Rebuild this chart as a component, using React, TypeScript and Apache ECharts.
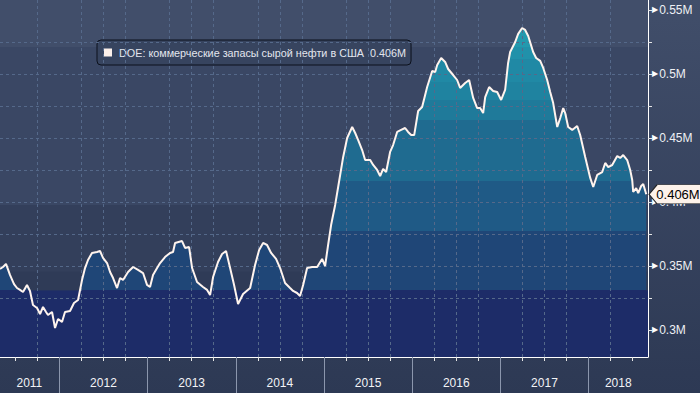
import React, { useEffect, useRef } from 'react';
import * as echarts from 'echarts';

const seriesName = 'DOE: коммерческие запасы сырой нефти в США';

// decimal-year positions of the samples
const years = [
  2011.327, 2011.361, 2011.395, 2011.440, 2011.486, 2011.520, 2011.554, 2011.588, 2011.633, 2011.667,
  2011.701, 2011.747, 2011.781, 2011.815, 2011.849, 2011.871, 2011.917, 2011.951, 2011.985, 2012.030,
  2012.064, 2012.121, 2012.166, 2012.212, 2012.257, 2012.291, 2012.325, 2012.370, 2012.427, 2012.461,
  2012.495, 2012.541, 2012.575, 2012.609, 2012.654, 2012.688, 2012.722, 2012.779, 2012.836, 2012.892,
  2012.949, 2012.994, 2013.028, 2013.062, 2013.108, 2013.142, 2013.198, 2013.255, 2013.289, 2013.312,
  2013.391, 2013.425, 2013.471, 2013.505, 2013.561, 2013.629, 2013.675, 2013.709, 2013.743, 2013.799,
  2013.845, 2013.890, 2013.936, 2013.981, 2014.026, 2014.083, 2014.163, 2014.219, 2014.265, 2014.310,
  2014.355, 2014.401, 2014.457, 2014.503, 2014.559, 2014.616, 2014.650, 2014.695, 2014.729, 2014.764,
  2014.809, 2014.866, 2014.923, 2014.979, 2015.013, 2015.047, 2015.081, 2015.127, 2015.161, 2015.218,
  2015.263, 2015.320, 2015.354, 2015.388, 2015.433, 2015.467, 2015.524, 2015.558, 2015.603, 2015.637,
  2015.671, 2015.705, 2015.750, 2015.784, 2015.830, 2015.875, 2015.920, 2015.954, 2015.989, 2016.023,
  2016.068, 2016.113, 2016.170, 2016.227, 2016.261, 2016.284, 2016.329, 2016.374, 2016.408, 2016.465,
  2016.510, 2016.544, 2016.601, 2016.646, 2016.692, 2016.737, 2016.771, 2016.805, 2016.828, 2016.873,
  2016.918, 2016.964, 2017.009, 2017.054, 2017.088, 2017.111, 2017.168, 2017.202, 2017.247, 2017.281,
  2017.316, 2017.372, 2017.406, 2017.452, 2017.486, 2017.531, 2017.565, 2017.599, 2017.645, 2017.679,
  2017.713, 2017.735, 2017.769, 2017.815, 2017.871, 2017.905, 2017.962, 2018.019, 2018.053, 2018.098,
  2018.155, 2018.189, 2018.223, 2018.268, 2018.325, 2018.359, 2018.393, 2018.438, 2018.472, 2018.495,
  2018.506, 2018.540, 2018.563, 2018.597, 2018.620, 2018.654,
];

// commercial crude stocks (displayed in "M" units as on the source)
const stocks = [
  0.3477, 0.3492, 0.3516, 0.3430, 0.3359, 0.3328, 0.3313, 0.3297, 0.3352, 0.3305,
  0.3195, 0.3172, 0.3125, 0.3180, 0.3141, 0.3117, 0.3141, 0.3016, 0.3086, 0.3063,
  0.3141, 0.3148, 0.3211, 0.3234, 0.3391, 0.3484, 0.3547, 0.3602, 0.3609, 0.3617,
  0.3563, 0.3523, 0.3453, 0.3406, 0.3328, 0.3406, 0.3391, 0.3453, 0.3492, 0.3469,
  0.3445, 0.3352, 0.3336, 0.3430, 0.3484, 0.3523, 0.3570, 0.3602, 0.3609, 0.3680,
  0.3695, 0.3641, 0.3648, 0.3484, 0.3375, 0.3336, 0.3313, 0.3273, 0.3414, 0.3531,
  0.3594, 0.3617, 0.3484, 0.3352, 0.3203, 0.3281, 0.3328, 0.3508, 0.3625, 0.3680,
  0.3664, 0.3602, 0.3555, 0.3484, 0.3367, 0.3328, 0.3305, 0.3289, 0.3266, 0.3352,
  0.3484, 0.3492, 0.3492, 0.3555, 0.3500, 0.3664, 0.3820, 0.3977, 0.4117, 0.4352,
  0.4500, 0.4586, 0.4539, 0.4484, 0.4406, 0.4328, 0.4328, 0.4289, 0.4250, 0.4203,
  0.4258, 0.4234, 0.4391, 0.4445, 0.4547, 0.4563, 0.4578, 0.4547, 0.4523, 0.4523,
  0.4711, 0.4742, 0.4898, 0.5023, 0.5016, 0.5070, 0.5125, 0.5094, 0.5039, 0.4992,
  0.4953, 0.4891, 0.4930, 0.4953, 0.4813, 0.4734, 0.4734, 0.4695, 0.4820, 0.4898,
  0.4867, 0.4859, 0.4797, 0.4875, 0.5086, 0.5172, 0.5250, 0.5313, 0.5359, 0.5344,
  0.5297, 0.5172, 0.5125, 0.5102, 0.5047, 0.4953, 0.4859, 0.4773, 0.4586, 0.4656,
  0.4734, 0.4695, 0.4586, 0.4563, 0.4594, 0.4523, 0.4352, 0.4188, 0.4117, 0.4211,
  0.4234, 0.4305, 0.4273, 0.4289, 0.4359, 0.4344, 0.4367, 0.4328, 0.4250, 0.4172,
  0.4078, 0.4109, 0.4070, 0.4125, 0.4141, 0.4060,
];

const xMin = 2011.327;
const xMax = 2018.674;
const yMin = 0.2789;
const yMax = 0.5578;

const yearBoundaries = [2012, 2013, 2014, 2015, 2016, 2017, 2018];
const yearLabelPos = [2011.66, 2012.5, 2013.5, 2014.5, 2015.5, 2016.5, 2017.5, 2018.337];
const quarterTicks = [
  2011.5, 2011.75, 2012.25, 2012.5, 2012.75, 2013.25, 2013.5, 2013.75,
  2014.25, 2014.5, 2014.75, 2015.25, 2015.5, 2015.75, 2016.25, 2016.5, 2016.75,
  2017.25, 2017.5, 2017.75, 2018.25, 2018.5,
];
const yLabelValues = [0.3, 0.35, 0.4, 0.45, 0.5, 0.55];
const yTickValues = [0.3, 0.325, 0.35, 0.375, 0.4, 0.425, 0.45, 0.475, 0.5, 0.525, 0.55];

// area fill colour steps by value
const fillBreaks = [0.331, 0.377, 0.416, 0.464, 0.48, 0.494, 0.512, 0.521];
const fillColors = ['#1d2c68', '#1f4677', '#1f5a86', '#1f6b90', '#1f7a9a', '#1f83a0', '#2089a5', '#2191aa', '#2399ae'];

// background bands by value
const bgBreaks = [yMin, 0.331, 0.3456, 0.3977, 0.521, yMax];
const bgColors = ['#1d2c68', '#2f3b57', '#333f5b', '#3a4764', '#414e6a'];

export default function App() {
  const ref = useRef<HTMLDivElement>(null);

  useEffect(() => {
    if (!ref.current) return;
    const chart = echarts.init(ref.current, null, { renderer: 'svg' });
    const data = years.map((y, i) => [y, stocks[i]]);
    const last = stocks[stocks.length - 1];
    const lastText = last.toFixed(3) + 'M';

    const pieces = fillColors.map((c, i) => {
      const p: any = { color: c };
      if (i > 0) p.gte = fillBreaks[i - 1];
      if (i < fillBreaks.length) p.lt = fillBreaks[i];
      return p;
    });

    const bands = bgColors.map((c, i) => [
      { yAxis: bgBreaks[i], itemStyle: { color: c } },
      { yAxis: bgBreaks[i + 1] },
    ]);

    const font = 'Liberation Sans';

    chart.setOption({
      animation: false,
      backgroundColor: {
        type: 'linear', x: 0, y: 0, x2: 0, y2: 1,
        colorStops: [
          { offset: 0, color: '#414e6a' },
          { offset: 1, color: '#2d3954' },
        ],
      },
      textStyle: { fontFamily: font },
      grid: { left: 0, right: 52, top: 0, bottom: 36, containLabel: false },
      legend: {
        data: [seriesName],
        left: 97,
        top: 40,
        icon: 'rect',
        itemWidth: 8,
        itemHeight: 8,
        padding: [7, 5, 7, 7],
        backgroundColor: '#37445f',
        borderColor: '#0c111c',
        borderWidth: 1,
        borderRadius: 4,
        selectedMode: false,
        formatter: (n: string) => n + '  ' + lastText,
        textStyle: { color: '#e3e6ee', fontSize: 10.8, fontFamily: font, padding: [0, 0, 0, 2] },
      },
      visualMap: {
        type: 'piecewise',
        show: false,
        seriesIndex: 0,
        dimension: 1,
        pieces,
      },
      xAxis: [
        {
          type: 'value',
          min: xMin,
          max: xMax,
          minInterval: 1,
          maxInterval: 1,
          z: 5,
          axisLine: { show: true, lineStyle: { color: '#ffffff', width: 1 } },
          axisTick: { show: true, customValues: quarterTicks, length: 4, lineStyle: { color: '#e6e6e6' } },
          axisLabel: {
            customValues: yearLabelPos,
            formatter: (v: number) => String(Math.floor(v)),
            color: '#f2f3f6',
            fontSize: 12,
            margin: 20,
          },
          splitLine: {
            show: true,
            showMinLine: false,
            showMaxLine: false,
            lineStyle: { color: '#55698a', type: [3, 3], width: 1 },
          },
        },
        {
          type: 'value',
          min: xMin,
          max: xMax,
          position: 'bottom',
          z: 5,
          axisLine: { show: false },
          axisTick: { show: true, customValues: yearBoundaries, length: 36, lineStyle: { color: '#8b96ad', width: 1 } },
          axisLabel: { show: false },
          splitLine: { show: false },
        },
      ],
      yAxis: {
        type: 'value',
        position: 'right',
        min: yMin,
        max: yMax,
        minInterval: 0.05,
        maxInterval: 0.05,
        z: 5,
        axisLine: { show: true, lineStyle: { color: '#ffffff', width: 1 } },
        axisTick: { show: true, customValues: yTickValues, length: 4, lineStyle: { color: '#e6e6e6' } },
        axisLabel: {
          customValues: yLabelValues,
          margin: 4,
          formatter: (v: number) => '{a|▶}' + String(+v.toFixed(3)) + 'M',
          color: '#eef0f4',
          fontSize: 12,
          rich: {
            a: { fontSize: 8, color: '#ffffff', fontFamily: 'DejaVu Sans', padding: [0, 1, 0, 0] },
          },
        },
        splitLine: {
          show: true,
          showMinLine: false,
          showMaxLine: false,
          lineStyle: { color: '#55698a', type: [3, 3], width: 1 },
        },
      },
      series: [
        {
          type: 'line',
          name: 'fill',
          data,
          showSymbol: false,
          symbol: 'none',
          silent: true,
          z: 2,
          lineStyle: { width: 0 },
          areaStyle: { opacity: 1, origin: 'start' },
        },
        {
          type: 'line',
          name: seriesName,
          data,
          showSymbol: false,
          symbol: 'none',
          silent: true,
          z: 10,
          itemStyle: { color: '#fcf0ea' },
          lineStyle: { color: '#fff4ee', width: 2 },
          markArea: {
            silent: true,
            z: 1,
            label: { show: false },
            data: bands,
          },
          markPoint: {
            silent: true,
            z: 20,
            symbol: 'path://M0,9L8,0L52,0L52,18L8,18Z',
            symbolSize: [52, 19],
            symbolOffset: [27, 0],
            itemStyle: { color: '#fdf2ea', borderColor: '#222222', borderWidth: 0.8 },
            label: {
              show: true,
              position: 'inside',
              formatter: lastText,
              color: '#000000',
              fontSize: 13,
              fontFamily: font,
              offset: [3, 0],
            },
            data: [{ coord: [xMax, last] }],
          },
        },
      ],
    });

    return () => chart.dispose();
  }, []);

  return (
    <div
      ref={ref}
      style={{ position: 'fixed', left: 0, top: 0, width: 700, height: 393 }}
    />
  );
}
